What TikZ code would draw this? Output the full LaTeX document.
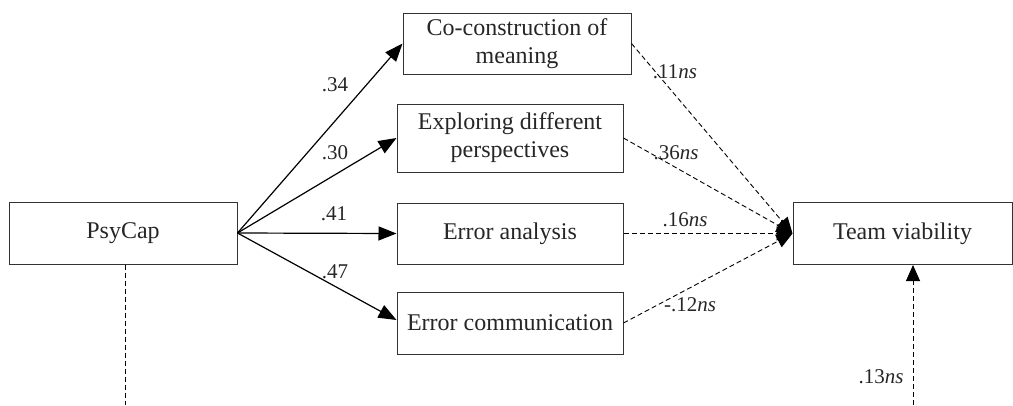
\documentclass[tikz,border=0pt]{standalone}
\usepackage{fontspec}
\setmainfont{Liberation Serif}
\usetikzlibrary{arrows.meta}
\begin{document}
\begin{tikzpicture}[x=1pt,y=-1pt,
  box/.style={draw=black!80, line width=1pt, inner sep=0pt, align=center,
    font=\fontsize{24}{28}\selectfont, text=black!85},
  lab/.style={font=\fontsize{21}{24}\selectfont, text=black!85, inner sep=0pt},
  solidarrow/.style={line width=1.2pt, -{Triangle[length=18pt,width=14pt]}},
  dasharrow/.style={line width=0.9pt, dash pattern=on 5pt off 3pt, -{Triangle[length=16pt,width=14pt]}}]
\useasboundingbox (0,0) rectangle (1013,405);
\node[box, minimum width=228pt, minimum height=62pt] (psy) at (123,233) {PsyCap};
\node[box, minimum width=228pt, minimum height=61pt] (coc) at (517,43.5) {Co-construction of\\meaning};
\node[box, minimum width=226pt, minimum height=68pt] (exp) at (510,138) {Exploring different\\perspectives};
\node[box, minimum width=226pt, minimum height=61pt] (err) at (510,233.5) {Error analysis};
\node[box, minimum width=226pt, minimum height=62pt] (com) at (510,323) {Error communication};
\node[box, minimum width=219pt, minimum height=62pt] (team) at (902.5,233.5) {Team viability};
\coordinate (psybot) at (125,405);
\coordinate (teambot) at (913,405);
\draw[solidarrow] (psy.east) -- (coc.west);
\draw[solidarrow] (psy.east) -- (exp.west);
\draw[solidarrow] (psy.east) -- (err.west);
\draw[solidarrow] (psy.east) -- ([yshift=3pt]com.west);
\draw[dasharrow] (coc.east) -- (team.west);
\draw[dasharrow] (exp.east) -- (team.west);
\draw[dasharrow] (err.east) -- (team.west);
\draw[dasharrow] (com.east) -- (team.west);
\draw[line width=0.9pt, dash pattern=on 5pt off 3pt] (psy.south -| psybot) -- (psybot);
\draw[dasharrow] (teambot) -- (team.south -| teambot);
\node[lab] (l1) at (335,85) {.34};
\node[lab] (l2) at (335,153) {.30};
\node[lab] (l3) at (334,214) {.41};
\node[lab] (l4) at (335,272) {.47};
\node[lab] (l5) at (675,72) {.11\textit{ns}};
\node[lab] (l6) at (676,153) {.36\textit{ns}};
\node[lab] (l7) at (685,220) {.16\textit{ns}};
\node[lab] (l8) at (690,305) {-.12\textit{ns}};
\node[lab] (l9) at (881,377) {.13\textit{ns}};
\end{tikzpicture}
\end{document}
